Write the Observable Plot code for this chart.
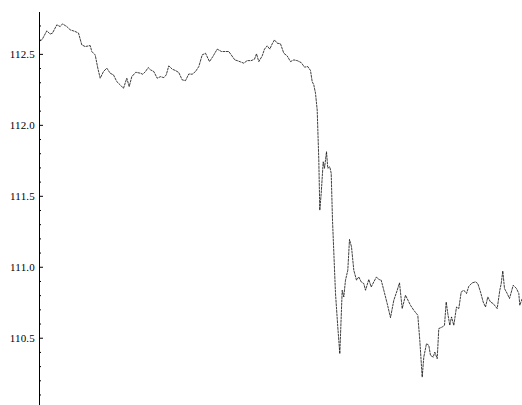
<!DOCTYPE html>
<html>
<head>
<meta charset="utf-8">
<script src="https://cdn.jsdelivr.net/npm/d3@7"></script>
<script src="https://cdn.jsdelivr.net/npm/@observablehq/plot@0.6"></script>
<style>
  html, body { margin: 0; padding: 0; background: #fff; }
  #chart svg { display: block; }
  #chart svg text { font-family: "Liberation Serif", "Times New Roman", Times, "DejaVu Serif", serif !important; fill: #000; }
</style>
</head>
<body>
<div id="chart"></div>
<script>
// time (arbitrary units)
const times = [
  0.1, 0.3, 0.73, 1.07, 1.3, 1.73, 2.07, 2.3, 2.73, 3.07, 3.57, 3.9, 4.23, 4.57, 5.07, 5.23, 5.57, 5.83, 6.07, 6.4,
  6.73, 7.07, 7.4, 7.73, 8.07, 8.4, 8.73, 8.97, 9.23, 9.63, 10.1, 10.33, 10.6, 10.87, 11.1, 11.43, 11.77, 12.1, 12.43, 12.67,
  12.93, 13.27, 13.6, 13.93, 14.27, 14.6, 14.93, 15.27, 15.6, 15.93, 16.27, 16.6, 17.0, 17.33, 17.77, 18.2, 18.6, 18.93, 19.53, 19.77,
  20.1, 20.43, 20.77, 21.17, 21.5, 21.7, 21.93, 22.27, 22.5, 22.77, 23.03, 23.27, 23.5, 23.77, 24.1, 24.43, 24.77, 25.1, 25.43, 25.77,
  26.17, 26.5, 26.83, 27.1, 27.27, 27.43, 27.6, 27.77, 27.93, 28.03, 28.17, 28.37, 28.5, 28.7, 28.83, 29.03, 29.17, 29.3, 29.6, 29.83,
  30.03, 30.17, 30.27, 30.43, 30.6, 30.83, 31.0, 31.2, 31.43, 31.7, 31.93, 32.17, 32.43, 32.6, 32.93, 33.17, 33.43, 33.7, 33.93, 34.17,
  34.43, 34.77, 35.1, 35.43, 35.77, 36.0, 36.27, 36.6, 36.93, 37.1, 37.43, 37.83, 38.03, 38.27, 38.43, 38.7, 38.93, 39.1, 39.37, 39.53,
  39.77, 39.93, 40.27, 40.5, 40.67, 40.83, 41.03, 41.2, 41.43, 41.7, 41.93, 42.17, 42.43, 42.7, 42.93, 43.27, 43.6, 43.83, 44.1, 44.37,
  44.6, 44.83, 45.1, 45.37, 45.77, 46.03, 46.17, 46.33, 46.5, 46.77, 47.0, 47.37, 47.7, 47.93, 48.03, 48.27
];
// series values
const values = [
  112.595, 112.609, 112.666, 112.643, 112.650, 112.708, 112.696, 112.715, 112.696, 112.673, 112.661, 112.650, 112.567, 112.555, 112.562, 112.520, 112.496, 112.403, 112.332, 112.379,
  112.403, 112.367, 112.355, 112.308, 112.285, 112.261, 112.332, 112.273, 112.343, 112.374, 112.367, 112.360, 112.379, 112.407, 112.391, 112.379, 112.332, 112.343, 112.336, 112.355,
  112.419, 112.396, 112.386, 112.372, 112.320, 112.315, 112.362, 112.360, 112.379, 112.414, 112.496, 112.508, 112.449, 112.484, 112.537, 112.520, 112.520, 112.520, 112.461, 112.456,
  112.447, 112.438, 112.456, 112.456, 112.466, 112.504, 112.449, 112.489, 112.537, 112.560, 112.537, 112.574, 112.602, 112.579, 112.574, 112.508, 112.489, 112.449, 112.461, 112.456,
  112.442, 112.410, 112.414, 112.386, 112.308, 112.285, 112.226, 112.108, 111.755, 111.402, 111.520, 111.743, 111.697, 111.814, 111.697, 111.708, 111.662, 111.332, 110.815, 110.579,
  110.391, 110.650, 110.838, 110.791, 110.909, 110.979, 111.196, 111.144, 110.979, 110.909, 110.932, 110.897, 110.885, 110.838, 110.914, 110.861, 110.897, 110.932, 110.914, 110.909,
  110.838, 110.744, 110.645, 110.767, 110.838, 110.890, 110.709, 110.803, 110.756, 110.732, 110.697, 110.662, 110.485, 110.226, 110.367, 110.462, 110.450, 110.379, 110.367, 110.402,
  110.356, 110.568, 110.579, 110.591, 110.755, 110.673, 110.591, 110.650, 110.591, 110.720, 110.709, 110.826, 110.838, 110.815, 110.866, 110.890, 110.897, 110.885, 110.826, 110.755,
  110.720, 110.791, 110.755, 110.744, 110.709, 110.838, 110.885, 110.974, 110.850, 110.815, 110.780, 110.873, 110.850, 110.815, 110.732, 110.780
];
// tick labels
const majorTicks = [110.5, 111.0, 111.5, 112.0, 112.5];
const minorTicks = d3.range(1101, 1128).map(d => d / 10).filter(d => !majorTicks.some(m => Math.abs(m - d) < 1e-9));

const data = times.map((t, i) => ({t, v: values[i]}));

const serif = "'Liberation Serif', 'Times New Roman', Times, 'DejaVu Serif', serif";

const chart = Plot.plot({
  width: 522,
  height: 405,
  marginTop: 12,
  marginBottom: 0,
  marginLeft: 39,
  marginRight: 0,
  style: {fontFamily: serif, fontSize: "11px", color: "#000", background: "#fff"},
  x: {domain: [0, 48.3], axis: null},
  y: {domain: [110.026, 112.795], axis: null},
  marks: [
    Plot.ruleX([0], {stroke: "#000", strokeWidth: 1}),
    Plot.axisY(majorTicks, {label: null, tickSize: 0, tickPadding: 4.5, tickFormat: d3.format(".1f"), fill: "#000", fontFamily: serif, fontSize: 11, fontVariant: "normal"}),
    Plot.axisY(majorTicks, {label: null, tickSize: -4, tickFormat: () => "", stroke: "#000"}),
    Plot.axisY(minorTicks, {label: null, tickSize: -2, tickFormat: () => "", stroke: "#000"}),
    Plot.line(data, {x: "t", y: "v", stroke: "#000", strokeWidth: 0.75, strokeDasharray: "2,1.4"})
  ]
});

d3.select(chart).selectAll("text").each(function() {
  const s = this.textContent;
  if (s && s.length) {
    this.setAttribute("font-family", serif);
    this.style.letterSpacing = "0.2px";
  }
});

document.getElementById("chart").appendChild(chart);
</script>
</body>
</html>
